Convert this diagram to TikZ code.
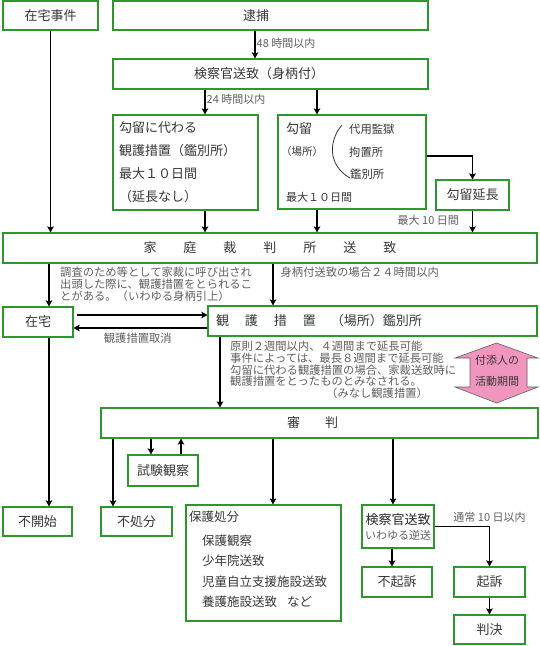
\documentclass[tikz,border=0pt]{standalone}
\usepackage{fontspec}
\setmainfont{Noto Sans CJK JP}
\usepackage{tikz}
\usetikzlibrary{arrows.meta,positioning,calc}
\definecolor{boxgreen}{RGB}{45,150,45}
\definecolor{inkdark}{RGB}{55,55,55}
\definecolor{inkgray}{RGB}{95,95,95}
\definecolor{guardpink}{RGB}{240,150,190}
\newcommand{\jpsize}[2]{\fontsize{#1}{#2}\selectfont}

\begin{document}
\begin{tikzpicture}[x=1pt, y=-1pt, >={Stealth[length=6pt,width=6.5pt,inset=1pt]},
  box/.style={draw=boxgreen, line width=1.1pt, fill=white, inner sep=0pt,
    text=inkdark, font=\jpsize{13}{15}},
  lbl/.style={text=inkgray, font=\jpsize{11}{12}, inner sep=1pt},
  flow/.style={->, line width=1.3pt}]
\useasboundingbox (0,0) rectangle (540,646);
% Top row
\node[box, minimum width=95pt, minimum height=29pt]  (zaitakujiken) at (50.5,15.5) {在宅事件};
\node[box, minimum width=315pt, minimum height=29pt] (taiho) at (270.5,15.5) {逮捕\hspace*{29pt}};
\node[box, minimum width=315pt, minimum height=30pt] (soushi) at (270.5,74) {検察官送致（身柄付）\hspace*{23pt}};
% Detention boxes
\node[box, minimum width=145pt, minimum height=95pt, text width=133pt, align=left,
  font=\jpsize{13}{23}] (kawari) at (185.5,162.5)
  {勾留に代わる\\観護措置（鑑別所）\\最大１０日間\\（延長なし）};
\node[box, minimum width=148pt, minimum height=94pt] (kouryu) at (352,162) {};
\node[anchor=west, inner sep=0pt, text=inkdark, font=\jpsize{13}{13}] (kouryuname) at (286,129) {勾留};
\node[anchor=west, inner sep=0pt, text=inkdark, font=\jpsize{10.5}{11}] (kouryuplace) at (281,152) {（場所）};
\node[anchor=west, inner sep=0pt, text=inkdark, font=\jpsize{11.3}{12}] (daiyou) at (349,129) {代用監獄};
\node[anchor=west, inner sep=0pt, text=inkdark, font=\jpsize{11.3}{12}] (kouchisho) at (349,152) {拘置所};
\node[anchor=west, inner sep=0pt, text=inkdark, font=\jpsize{11.3}{12}] (kanbetsu) at (350,174) {鑑別所};
\node[anchor=west, inner sep=0pt, text=inkdark, font=\jpsize{11}{12}] (kouryumax) at (286,197) {最大１０日間};
\draw[inkdark, line width=0.8pt] (342,125) .. controls (329,140) and (327,165) .. (350,178);
\node[box, minimum width=73pt, minimum height=30pt] (encho) at (472.5,195) {勾留延長};
% Family court
\node[box, minimum width=534pt, minimum height=30pt] (katei) at (270,248)
  {家\hspace{27pt}庭\hspace{27pt}裁\hspace{27pt}判\hspace{27pt}所\hspace{27pt}送\hspace{27pt}致};
\node[box, minimum width=70pt, minimum height=30pt] (zaitaku) at (38,322) {在宅};
\node[box, minimum width=329pt, minimum height=30pt, inner xsep=8pt, text width=313pt,
  align=left] (kango) at (372.5,321)
  {観\hspace{16pt}護\hspace{16pt}措\hspace{16pt}置\hspace{15pt}（場所）鑑別所};
\node[lbl, anchor=north west, font=\jpsize{11.3}{12}, align=left] (yobidashi) at (59,266)
  {調査のため等として家裁に呼び出され\\出頭した際に、観護措置をとられるこ\\とがある。（いわゆる身柄引上）};
\node[lbl, anchor=north west, font=\jpsize{11.3}{11.9}, align=left] (gensoku) at (229,339.5)
  {原則２週間以内、４週間まで延長可能\\事件によっては、最長８週間まで延長可能\\勾留に代わる観護措置の場合、家裁送致時に\\観護措置をとったものとみなされる。\\\hspace*{96pt}（みなし観護措置）};
% Attendant period arrow
\draw[fill=guardpink, draw=inkgray, line width=0.6pt]
  (470,358) -- (455,358) -- (496.5,343) -- (538,358) -- (527,358) -- (527,387)
  -- (538,387) -- (496.5,403) -- (455,387) -- (470,387) -- cycle;
\node[text=inkdark, font=\jpsize{11}{21}, align=center] (guardtxt) at (497,371) {付添人の\\活動期間};
% Hearing and results
\node[box, minimum width=437pt, minimum height=30pt] (shinpan) at (319.5,423) {審\hspace{25pt}判\hspace*{14pt}};
\node[box, minimum width=70pt, minimum height=31pt] (shiken) at (163,470.5) {試験観察};
\node[box, minimum width=69pt, minimum height=29pt] (fukaishi) at (37.5,521.5) {不開始};
\node[box, minimum width=71pt, minimum height=29pt] (fushobun) at (136.5,521.5) {不処分};
\node[box, minimum width=155pt, minimum height=116pt] (hogo) at (263.5,563) {};
\node[anchor=north west, inner sep=0pt, text=inkdark, font=\jpsize{12.5}{20.5}, align=left]
  (hogotxt) at (189,511)
  {保護処分\\[3pt]\hspace*{13pt}保護観察\\\hspace*{13pt}少年院送致\\\hspace*{13pt}児童自立支援施設送致\\\hspace*{13pt}養護施設送致\hspace{10pt}など};
\node[box, minimum width=72pt, minimum height=43pt, align=center, font=\jpsize{13}{15}] (gyakuso) at (398,526.5)
  {\textcolor{black!85}{検察官送致}\\{\jpsize{11}{15}\color{inkgray}いわゆる逆送}};
\node[box, minimum width=70pt, minimum height=30pt] (fukiso) at (397,582) {不起訴};
\node[box, minimum width=71pt, minimum height=30pt] (kiso) at (489.5,582) {起訴};
\node[box, minimum width=71pt, minimum height=29pt] (hanketsu) at (489.5,629.5) {判決};
\node[lbl] (tsujo) at (489.5,517) {通常 10 日以内};
% Arrows, top part
\draw[flow] ([xshift=-15.5pt]taiho.south) -- node[lbl, right, pos=0.45]{48 時間以内} ([xshift=-15.5pt]soushi.north);
\draw[flow] ([xshift=-65.5pt]soushi.south) coordinate (k24) -- node[lbl, right, pos=0.4]{24 時間以内} (k24 |- kawari.north);
\path ([xshift=-35pt]kouryu.north) coordinate (k0);
\draw[flow] (k0 |- soushi.south) -- (k0);
\draw[flow] ([yshift=6pt]kouryu.east) -| (encho.north);
\draw[flow] (zaitakujiken.south) -- (zaitakujiken.south |- katei.north);
\draw[flow] ([xshift=19.5pt]kawari.south) coordinate (k1) -- (k1 |- katei.north);
\draw[flow] ([xshift=-35pt]kouryu.south) coordinate (k2) -- (k2 |- katei.north);
\draw[flow] (encho.south) -- node[lbl, anchor=east, pos=0.43, xshift=-12pt]{最大 10 日間} (encho.south |- katei.north);
% Arrows, middle part
\path ([xshift=11pt]zaitaku.north) coordinate (k3);
\draw[flow] (k3 |- katei.south) -- (k3);
\path ([xshift=-99.5pt]kango.north) coordinate (k4);
\draw[flow] (k4 |- katei.south) -- node[lbl, anchor=west, pos=0.21, xshift=6pt, font=\jpsize{11.3}{12}]{身柄付送致の場合２４時間以内} (k4);
\draw[flow] ([xshift=3pt,yshift=7pt]zaitaku.east) coordinate (k5) -- (k5 -| kango.west);
\draw[flow] ([yshift=-7pt]kango.west) coordinate (k6) -- node[lbl, below=3pt, pos=0.52, font=\jpsize{11.3}{12}]{観護措置取消} (k6 -| zaitaku.east);
\path ([xshift=-152.5pt]kango.south) coordinate (k7);
\draw[flow] (k7) -- (k7 |- shinpan.north);
% Arrows, bottom part
\draw[flow] (k3 |- zaitaku.south) -- (k3 |- fukaishi.north);
\draw[flow] ([xshift=-206.5pt]shinpan.south) coordinate (k8) -- (k8 |- fushobun.north);
\draw[flow] ([xshift=-168.5pt]shinpan.south) coordinate (k9) -- (k9 |- shiken.north);
\draw[flow] ([xshift=18pt]shiken.north) coordinate (k10) -- (k10 |- shinpan.south);
\draw[flow] ([xshift=-46.5pt]shinpan.south) coordinate (k11) -- (k11 |- hogo.north);
\draw[flow] ([xshift=73.5pt]shinpan.south) coordinate (k12) -- (k12 |- gyakuso.north);
\draw[flow] ([xshift=-6pt]gyakuso.south) coordinate (k13) -- (k13 |- fukiso.north);
\draw[flow] (gyakuso.east) -| (kiso.north);
\draw[flow] (kiso) -- (hanketsu);
\end{tikzpicture}
\end{document}
